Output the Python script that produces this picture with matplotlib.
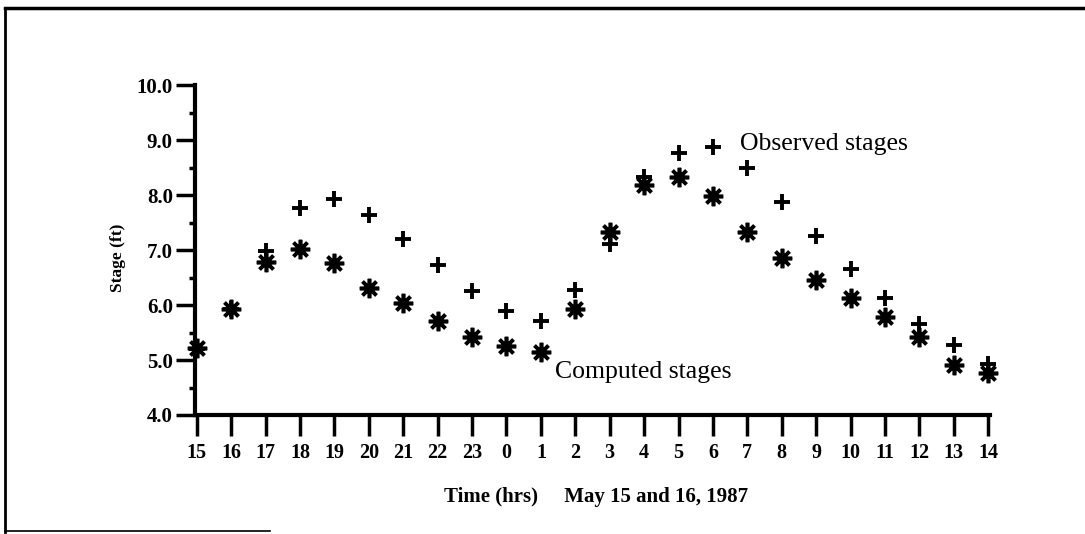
import matplotlib
matplotlib.use("Agg")
import matplotlib.pyplot as plt
from matplotlib.lines import Line2D

hours = ["15", "16", "17", "18", "19", "20", "21", "22", "23", "0", "1", "2",
         "3", "4", "5", "6", "7", "8", "9", "10", "11", "12", "13", "14"]
observed = [5.2, 5.93, 6.99, 7.77, 7.93, 7.64, 7.2, 6.72, 6.26, 5.9, 5.71, 6.27,
            7.11, 8.33, 8.77, 8.87, 8.5, 7.88, 7.26, 6.66, 6.12, 5.66, 5.27, 4.92]
computed = [5.21, 5.92, 6.78, 7.02, 6.77, 6.31, 6.04, 5.71, 5.42, 5.25, 5.14, 5.92,
            7.33, 8.18, 8.33, 7.98, 7.33, 6.85, 6.45, 6.13, 5.78, 5.42, 4.91, 4.76]
yticks = [4.0, 5.0, 6.0, 7.0, 8.0, 9.0, 10.0]
yminor = [4.5, 5.5, 6.5, 7.5, 8.5, 9.5]

plt.rcParams['font.family'] = ['Liberation Serif', 'DejaVu Serif']

fig = plt.figure(figsize=(10.85, 5.34), dpi=100)
ax = fig.add_axes([195/1085, 1-415/534, (990-195)/1085, (415-85)/534])

x = list(range(len(hours)))
ax.plot(x, computed, linestyle='none', marker=(8, 2, 0), markersize=14,
        markeredgewidth=2.6, color='black', clip_on=False)
ax.plot(x, observed, linestyle='none', marker='+', markersize=11,
        markeredgewidth=2.8, color='black', clip_on=False)

ax.set_xlim(-0.05, 23.05)
ax.set_ylim(4.0, 10.0)
ax.set_xticks(x)
ax.set_xticklabels(hours, fontsize=14.5, fontweight='bold')
ax.set_yticks(yticks)
ax.set_yticklabels([f"{v:.1f}" for v in yticks], fontsize=15, fontweight='bold')
ax.set_yticks(yminor, minor=True)
ax.tick_params(axis='x', direction='out', length=15, width=2.5, pad=5)
ax.tick_params(axis='y', which='major', direction='out', length=14, width=2.5, pad=2)
ax.tick_params(axis='y', which='minor', direction='out', length=4, width=2.5)

for s in ['top', 'right']:
    ax.spines[s].set_visible(False)
for s in ['left', 'bottom']:
    ax.spines[s].set_linewidth(3)

ax.text(15.8, 8.92, "Observed stages", fontsize=18.5, va='center', ha='left')
ax.text(10.4, 4.78, "Computed stages", fontsize=18.5, va='center', ha='left')

fig.text(118/1085, 1-258/534, "Stage (ft)", fontsize=12.5, fontweight='bold',
         rotation=90, ha='center', va='center')
fig.text(596/1085, 1-497/534, "Time (hrs)     May 15 and 16, 1987", fontsize=15,
         fontweight='bold', ha='center', va='center')

# page border
fig.add_artist(Line2D([5/1085, 1.0], [1-8/534, 1-8/534], color='black', lw=2.5,
                      transform=fig.transFigure))
fig.add_artist(Line2D([5/1085, 5/1085], [1-8/534, 1-532/534], color='black', lw=2,
                      transform=fig.transFigure))
fig.add_artist(Line2D([5/1085, 270/1085], [1-531/534, 1-531/534], color='black', lw=1.2,
                      transform=fig.transFigure))

fig.savefig("out.png", dpi=100)
